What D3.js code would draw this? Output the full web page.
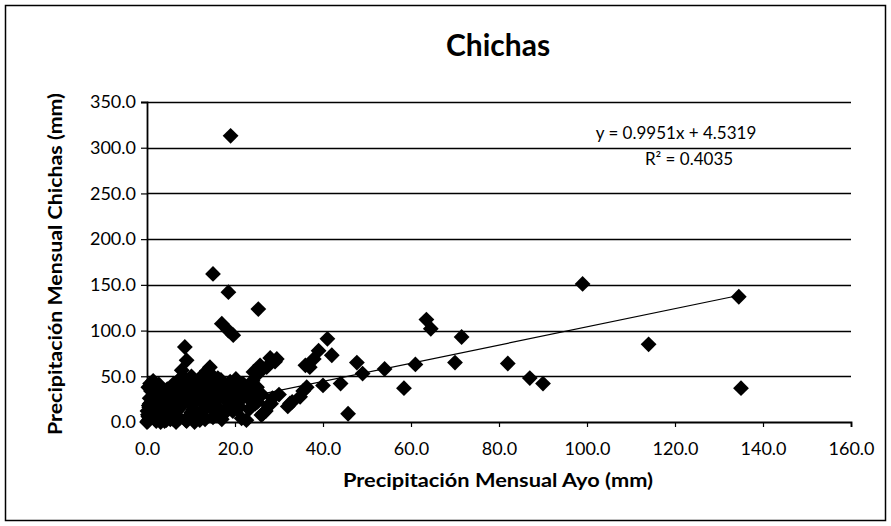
<!DOCTYPE html>
<html>
<head>
<meta charset="utf-8">
<script src="https://cdn.jsdelivr.net/npm/d3@7"></script>
<style>
  html, body { margin: 0; padding: 0; background: #fff; }
  svg { display: block; }
  text { font-family: "Lato", "Open Sans", "Liberation Sans", sans-serif; fill: #000; }
</style>
</head>
<body>
<svg id="chart" width="891" height="526"></svg>
<script>
// ---- data ----
const title = "Chichas";
const xTitle = "Precipitación Mensual Ayo (mm)";
const yTitle = "Precipitación Mensual Chichas (mm)";
const xTicks = [0, 20, 40, 60, 80, 100, 120, 140, 160];
const yTicks = [0, 50, 100, 150, 200, 250, 300, 350];
const trendSlope = 0.9951;
const trendIntercept = 4.5319;
const trendR2 = 0.4035;
const trendRange = [0, 135];

// Ayo (x) values
const ayo = [
  19, 15, 18.5, 25.3, 17, 18.5, 19.6, 8.6, 99, 134.5, 114, 135,
  63.5, 64.5, 71.5, 41, 42, 39, 37.9, 37, 36, 29.5, 29.1, 28, 47.7, 49,
  54, 61, 70, 82, 87, 90, 58.4, 45.7, 40, 44, 36.3, 34.8, 32.5, 32,
  26.4, 26, 22.6, 21.5, 23.4, 24.2, 25.3, 25.7, 27.2, 24, 25, 21.8, 20, 21,
  14.3, 13.6, 9, 7.9, 0.7, 15.8, 12, 11,
  0, 0.2, 0.5, 0.3, 0.8, 1, 0.4, 1.2, 0.6, 1.5, 0.9, 1.4,
  2, 2.5, 2.2, 3, 2.8, 3.3, 2.6, 3.5, 4, 4.5, 4.2, 5, 4.8, 5.5, 5.2,
  6, 6.3, 6.8, 7, 7.5, 7.2, 7.8, 8, 8.5, 8.2, 9, 9.5, 10, 10.5, 10.2,
  11, 11.5, 11.2, 12, 12.5, 13, 12.8, 13.5, 14, 15, 15.5, 15.2, 16, 16.5,
  17, 17.5, 18, 18.3, 19, 18.7, 19.5, 1.8, 3.8, 5.8, 6.5, 9.8, 14.5, 16.8,
  0.1, 0.3, 1.1, 2.1, 0.6, 3.1, 4.4, 5.3, 6.6, 7.4, 8.8, 10.8, 11.8, 13.2,
  20.5, 22, 23, 24.6, 27, 28.5, 30, 33, 35.5,
  0.2, 0.5, 1.3, 1.9, 2.4, 3.6, 4.1, 4.7, 5.6, 6.2, 6.9, 7.6, 8.3, 9.2,
  9.9, 10.6, 11.4, 12.2, 12.9, 13.8, 14.6, 15.4, 16.2, 17.2, 17.9, 18.9,
  19.8, 20.7, 21.6, 22.4, 23.2, 24.1, 25.1, 26.1, 27.5, 28.2,
  1.6, 2.7, 3.9, 5.1, 6.1, 7.1, 8.1, 9.3, 10.4, 11.6, 12.6, 13.9, 16.1, 18.1,
  0.9, 2.3, 4.6, 7.7, 10.1, 12.4, 14.8, 17.6, 20.2, 23.7
];
// Chichas (y) values
const chichas = [
  313, 162, 142, 123.5, 107.5, 100, 95, 82, 151, 137, 85, 37,
  112, 102, 93, 91, 73, 78, 69, 60, 62, 69, 66, 70, 65, 53,
  58, 63, 65, 64, 48, 42, 37, 9, 40, 42, 38, 27.5, 20.3, 17,
  9.5, 7.6, 2, 4, 24, 54.7, 53, 62, 60, 45, 38, 42, 31, 16.7,
  60, 56, 67.5, 56.6, 42, 38.4, 48, 44,
  0, 1, 3, 6, 10, 14, 18, 22, 26, 30, 34, 45,
  2, 5, 9, 12, 16, 20, 25, 28, 1, 4, 8, 11, 15, 19, 24,
  3, 7, 12, 17, 22, 27, 32, 36, 40, 45, 1, 6, 10, 14, 19,
  25, 30, 35, 2, 8, 13, 20, 27, 33, 5, 11, 18, 24, 30,
  3, 9, 15, 22, 28, 35, 12, 36, 29, 33, 21, 38, 26, 46,
  12, 38, 5, 1, 20, 0, 2, 3, 0, 4, 2, 0, 6, 3,
  14, 28, 33, 20, 12, 26, 30, 22, 34,
  8, 16, 24, 13, 32, 7, 26, 35, 28, 14, 31, 40, 20, 30,
  38, 24, 42, 29, 38, 22, 44, 27, 15, 40, 30, 44,
  20, 37, 26, 30, 14, 32, 22, 30, 18, 20,
  38, 41, 33, 35, 42, 38, 50, 26, 47, 9, 50, 44, 48, 40,
  21, 17, 36, 48, 50, 45, 51, 40, 47, 42
];

// ---- layout ----
const svg = d3.select("#chart");
const plot = { left: 147, right: 851, top: 102, bottom: 422 };

const x = d3.scaleLinear().domain([0, 160]).range([plot.left, plot.right]);
const y = d3.scaleLinear().domain([0, 350]).range([plot.bottom, plot.top]);

// outer border
svg.append("rect")
  .attr("x", 5.5).attr("y", 5.5).attr("width", 880).attr("height", 515)
  .attr("fill", "none").attr("stroke", "#000").attr("stroke-width", 1.5);

// gridlines
svg.append("g").selectAll("line").data(yTicks.filter(d => d > 0)).join("line")
  .attr("x1", plot.left).attr("x2", plot.right)
  .attr("y1", d => Math.round(y(d)) + 0.5).attr("y2", d => Math.round(y(d)) + 0.5)
  .attr("stroke", "#000").attr("stroke-width", 1.4);

// axes
const yAxis = d3.axisLeft(y).tickValues(yTicks).tickFormat(d3.format(".1f")).tickSize(6).tickPadding(5);
const xAxis = d3.axisBottom(x).tickValues(xTicks).tickFormat(d3.format(".1f")).tickSize(5).tickPadding(15);

const gy = svg.append("g").attr("transform", `translate(${plot.left},0)`).call(yAxis);
const gx = svg.append("g").attr("transform", `translate(0,${plot.bottom})`).call(xAxis);
[gx, gy].forEach(g => {
  g.select(".domain").attr("stroke", "#000").attr("stroke-width", 1.8);
  g.selectAll(".tick line").attr("stroke", "#000").attr("stroke-width", 1.2);
  g.selectAll(".tick text").attr("font-size", 18).attr("font-family", "Lato, sans-serif").attr("fill", "#000");
});

// trendline
svg.append("line")
  .attr("x1", x(trendRange[0])).attr("y1", y(trendSlope * trendRange[0] + trendIntercept))
  .attr("x2", x(trendRange[1])).attr("y2", y(trendSlope * trendRange[1] + trendIntercept))
  .attr("stroke", "#000").attr("stroke-width", 1.2);

// points (diamonds)
const diamond = d3.symbol().type(d3.symbolSquare).size(125);
svg.append("g").selectAll("path").data(ayo.map((v, i) => [v, chichas[i]])).join("path")
  .attr("d", diamond)
  .attr("transform", d => `translate(${x(d[0])},${y(d[1])}) rotate(45)`)
  .attr("fill", "#000");

// title
svg.append("text").attr("x", 498).attr("y", 56).attr("text-anchor", "middle")
  .attr("font-size", 30).attr("font-weight", "bold").text(title);

// axis titles
svg.append("text").attr("x", 498).attr("y", 487).attr("text-anchor", "middle")
  .attr("font-size", 18).attr("font-weight", "bold")
  .attr("textLength", 310).attr("lengthAdjust", "spacingAndGlyphs").text(xTitle);
svg.append("text").attr("transform", "translate(62,264) rotate(-90)").attr("text-anchor", "middle")
  .attr("font-size", 18).attr("font-weight", "bold")
  .attr("textLength", 342).attr("lengthAdjust", "spacingAndGlyphs").text(yTitle);

// trendline label
svg.append("text").attr("x", 676).attr("y", 139).attr("text-anchor", "middle")
  .attr("font-size", 17).text(`y = ${trendSlope}x + ${trendIntercept}`);
svg.append("text").attr("x", 689).attr("y", 165).attr("text-anchor", "middle")
  .attr("font-size", 17).text(`R² = ${trendR2}`);
</script>
</body>
</html>
